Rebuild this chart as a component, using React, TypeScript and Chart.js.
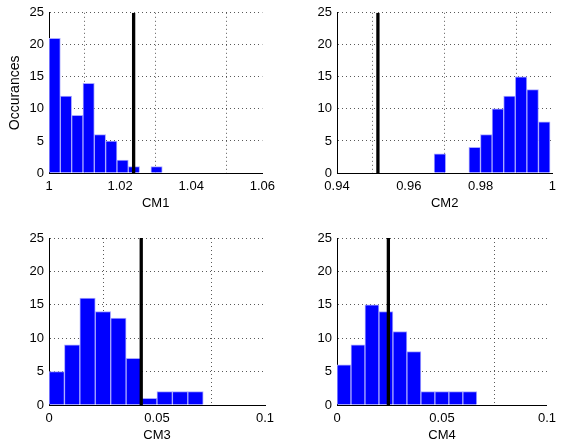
import React, { useEffect, useRef } from "react";
import { Chart, registerables } from "chart.js";

Chart.register(...registerables);

// ---- data ----
const cm1BinStart = 1.0;
const cm1BinWidth = 0.003185;
const cm1Counts = [21, 12, 9, 14, 6, 5, 2, 1, 0, 1];
const cm1Line = 1.0238;
const cm1Ticks = [1, 1.02, 1.04, 1.06];
const cm1TickLabels = ["1", "1.02", "1.04", "1.06"];

const cm2BinStart = 0.96705;
const cm2BinWidth = 0.00323;
const cm2Counts = [3, 0, 0, 4, 6, 10, 12, 15, 13, 8];
const cm2Line = 0.9514;
const cm2Ticks = [0.94, 0.96, 0.98, 1];
const cm2TickLabels = ["0.94", "0.96", "0.98", "1"];

const cm3BinStart = 0;
const cm3BinWidth = 0.00714;
const cm3Counts = [5, 9, 16, 14, 13, 7, 1, 2, 2, 2];
const cm3Line = 0.0427;
const cm3Ticks = [0, 0.05, 0.1];
const cm3TickLabels = ["0", "0.05", "0.1"];

const cm4BinStart = 0;
const cm4BinWidth = 0.00666;
const cm4Counts = [6, 9, 15, 14, 11, 8, 2, 2, 2, 2];
const cm4Line = 0.02446;
const cm4Ticks = [0, 0.05, 0.1];
const cm4TickLabels = ["0", "0.05", "0.1"];

const yTicks = [0, 5, 10, 15, 20, 25];

const FONT = "'Liberation Sans', Arial, Helvetica, sans-serif";

type PanelProps = {
  left: number;
  top: number;
  width: number;
  height: number;
  area: { l: number; r: number; t: number; b: number };
  binStart: number;
  binWidth: number;
  counts: number[];
  lineX: number;
  xTicks: number[];
  xTickLabels: string[];
  xTitle: string;
  xTitleOffset: number;
  yTitle?: string;
};

function Panel(p: PanelProps) {
  const ref = useRef<HTMLCanvasElement | null>(null);
  useEffect(() => {
    if (!ref.current) return;
    const barData = p.counts.map((c, i) => ({ x: p.binStart + p.binWidth * (i + 0.5), y: c }));
    const xmin = p.xTicks[0];
    const xmax = p.xTicks[p.xTicks.length - 1];
    const chart = new Chart(ref.current, {
      type: "bar",
      data: {
        datasets: [
          {
            type: "bar",
            data: barData as any,
            backgroundColor: "#0000ff",
            borderColor: "#a8a8ff",
            borderWidth: 1,
            borderSkipped: "start",
            barPercentage: 1,
            categoryPercentage: 1,
            order: 1,
          } as any,
          {
            type: "line",
            data: [
              { x: p.lineX, y: 0 },
              { x: p.lineX, y: 25 },
            ] as any,
            borderColor: "#000000",
            borderWidth: 3.3,
            pointRadius: 0,
            order: 0,
          } as any,
        ],
      },
      options: {
        responsive: false,
        maintainAspectRatio: false,
        animation: false,
        layout: {
          padding: { left: 0, top: p.area.t, right: p.width - p.area.r, bottom: 0 },
        },
        plugins: { legend: { display: false }, tooltip: { enabled: false } },
        scales: {
          x: {
            type: "linear",
            min: xmin,
            max: xmax,
            offset: false,
            afterFit: (s: any) => {
              s.height = p.height - p.area.b;
            },
            afterBuildTicks: (s: any) => {
              s.ticks = p.xTicks.map((v) => ({ value: v }));
            },
            ticks: {
              autoSkip: false,
              maxRotation: 0,
              minRotation: 0,
              padding: 6,
              color: "#000",
              font: { family: FONT, size: 13 },
              callback: (v: any, i: number) => p.xTickLabels[i],
            },
            grid: {
              color: "rgba(0,0,0,0.65)",
              lineWidth: 1,
              drawTicks: false,
            },
            border: { display: true, color: "#000", width: 1, dash: [1, 3] },
            title: {
              display: true,
              text: p.xTitle,
              color: "#000",
              font: { family: FONT, size: 13 },
              padding: { top: 0, bottom: p.xTitleOffset },
            },
          },
          y: {
            type: "linear",
            min: 0,
            max: 25,
            afterFit: (s: any) => {
              s.width = p.area.l;
            },
            afterBuildTicks: (s: any) => {
              s.ticks = yTicks.map((v) => ({ value: v }));
            },
            ticks: {
              padding: 5,
              color: "#000",
              font: { family: FONT, size: 13 },
              callback: (v: any) => String(v),
            },
            grid: {
              color: "rgba(0,0,0,0.65)",
              lineWidth: 1,
              drawTicks: false,
            },
            border: { display: true, color: "#000", width: 1, dash: [1, 3] },
            title: {
              display: !!p.yTitle,
              text: p.yTitle || "",
              color: "#000",
              font: { family: FONT, size: 14 },
              padding: { top: 7, bottom: 0 },
            },
          },
        },
      } as any,
    });
    return () => chart.destroy();
  }, []);
  return (
    <canvas
      ref={ref}
      width={p.width}
      height={p.height}
      style={{ position: "absolute", left: p.left, top: p.top, width: p.width, height: p.height }}
    />
  );
}

export default function App() {
  return (
    <div style={{ position: "absolute", left: 0, top: 0, width: 562, height: 448, background: "#fff" }}>
      <Panel
        left={0}
        top={0}
        width={281}
        height={224}
        area={{ l: 49, r: 265, t: 6, b: 173 }}
        binStart={cm1BinStart}
        binWidth={cm1BinWidth}
        counts={cm1Counts}
        lineX={cm1Line}
        xTicks={cm1Ticks}
        xTickLabels={cm1TickLabels}
        xTitle="CM1"
        xTitleOffset={13}
        yTitle="Occurances"
      />
      <Panel
        left={281}
        top={0}
        width={281}
        height={224}
        area={{ l: 56, r: 272, t: 6, b: 173 }}
        binStart={cm2BinStart}
        binWidth={cm2BinWidth}
        counts={cm2Counts}
        lineX={cm2Line}
        xTicks={cm2Ticks}
        xTickLabels={cm2TickLabels}
        xTitle="CM2"
        xTitleOffset={13}
      />
      <Panel
        left={0}
        top={224}
        width={281}
        height={224}
        area={{ l: 49, r: 265, t: 14, b: 181 }}
        binStart={cm3BinStart}
        binWidth={cm3BinWidth}
        counts={cm3Counts}
        lineX={cm3Line}
        xTicks={cm3Ticks}
        xTickLabels={cm3TickLabels}
        xTitle="CM3"
        xTitleOffset={5}
      />
      <Panel
        left={281}
        top={224}
        width={281}
        height={224}
        area={{ l: 56, r: 272, t: 14, b: 181 }}
        binStart={cm4BinStart}
        binWidth={cm4BinWidth}
        counts={cm4Counts}
        lineX={cm4Line}
        xTicks={cm4Ticks}
        xTickLabels={cm4TickLabels}
        xTitle="CM4"
        xTitleOffset={5}
      />
    </div>
  );
}
